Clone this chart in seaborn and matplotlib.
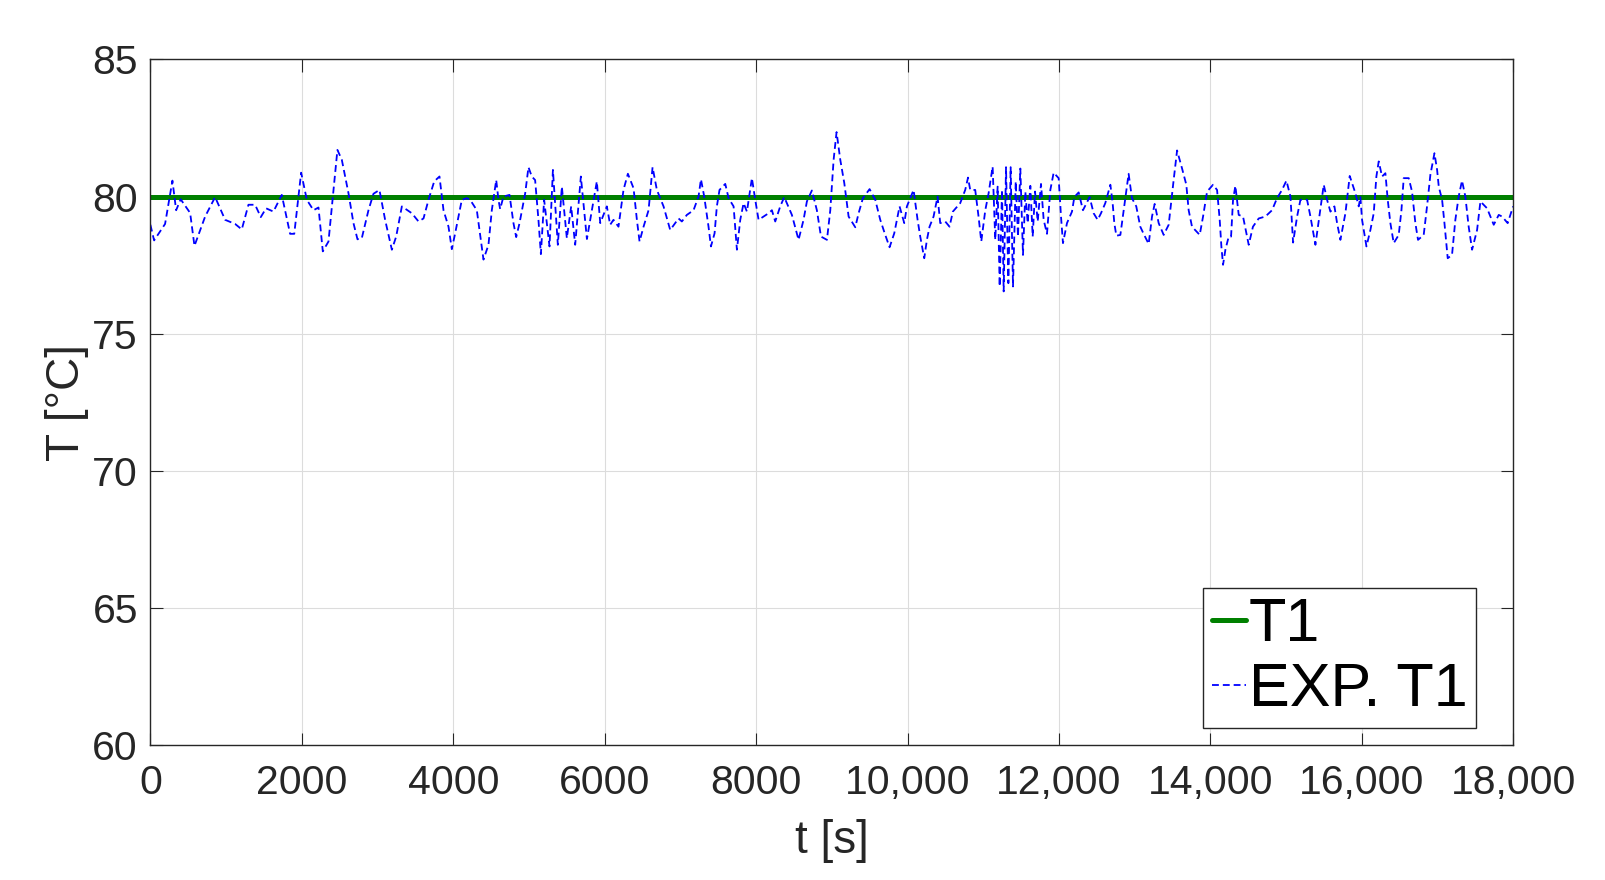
import matplotlib
matplotlib.use("Agg")
import matplotlib.pyplot as plt
import matplotlib.ticker as mticker
import seaborn as sns
import pandas as pd

# ---- data ----
t1_time = [0, 18000]
t1_temp = [80, 80]

exp_time = [
    0, 49, 194, 291, 340, 400, 525, 582, 723, 855, 987, 1119, 1207, 1295, 1383,
    1458, 1528, 1625, 1735, 1845, 1900, 1991, 2066, 2154, 2220, 2277, 2352, 2470,
    2528, 2616, 2682, 2735, 2792, 2880, 2946, 3025,
    3100, 3189, 3246, 3321, 3453, 3541, 3607, 3673, 3748, 3818, 3871, 3937, 3981,
    4025, 4113, 4179, 4223, 4311, 4399, 4465, 4509, 4567, 4597, 4619, 4663, 4743,
    4795, 4831, 4875, 4950, 4993, 5037, 5081, 5125, 5157, 5200, 5271, 5316, 5381,
    5434, 5500, 5557, 5610, 5685, 5765, 5896, 5941,
    6028, 6072, 6116, 6182, 6248, 6306, 6381, 6425, 6460, 6513, 6579, 6632, 6689,
    6777, 6865, 6975, 7019, 7085, 7173, 7239, 7271, 7314, 7371, 7403, 7451, 7481,
    7516, 7592, 7636, 7702, 7746, 7790, 7834, 7878, 7944, 7988, 8032, 8098, 8164,
    8208, 8252, 8318, 8371, 8472, 8560, 8626, 8670, 8736, 8802, 8856, 8935, 8979,
    9023, 9062,
    9111, 9164, 9221, 9309, 9353, 9410, 9498, 9573, 9639, 9705, 9762, 9824, 9859,
    9894, 9956, 9991, 10079, 10132, 10167, 10220, 10255, 10290, 10343, 10396,
    10431, 10497, 10554, 10598, 10695, 10761, 10798, 10827, 10893, 10937, 10973,
    11026, 11070, 11123, 11158, 11189, 11216, 11247, 11269, 11300, 11331, 11361,
    11392, 11428, 11458, 11489, 11524, 11555, 11586, 11621, 11652, 11683, 11718,
    11762, 11797, 11841, 11885, 11929, 11995, 12026, 12052,
    12105, 12171, 12202, 12259, 12316, 12404, 12457, 12510, 12554, 12611, 12678,
    12708, 12730, 12757, 12810, 12854, 12919, 12963, 13020, 13073, 13117, 13184,
    13228, 13263, 13316, 13382, 13448, 13514, 13559, 13624, 13681, 13712, 13756,
    13858, 13902, 13955, 14034, 14087, 14122, 14144, 14166, 14197, 14241, 14272,
    14298, 14329, 14373, 14430, 14505, 14561, 14637, 14725, 14813, 14879, 14945,
    15003, 15056, 15091,
    15144, 15188, 15232, 15276, 15320, 15386, 15443, 15496, 15540, 15584, 15637,
    15672, 15716, 15782, 15839, 15914, 15958, 15980, 16002, 16060, 16112, 16156,
    16191, 16222, 16266, 16310, 16341, 16376, 16420, 16486, 16522, 16552, 16618,
    16662, 16706, 16741, 16816, 16860, 16904, 16958, 16993, 17015, 17059, 17090,
    17133, 17190, 17234, 17278, 17322, 17366, 17410, 17455, 17521, 17565, 17653,
    17741, 17807, 17851, 17925, 17997,
]
exp_temp = [
    78.97, 78.4, 79.0, 80.58, 79.5, 79.9, 79.4, 78.2, 79.27, 79.98, 79.15, 79.0,
    78.8, 79.7, 79.7, 79.25, 79.57, 79.45, 80.06, 78.64, 78.64, 80.87, 79.88, 79.5,
    79.6, 78.0, 78.36, 81.7, 81.34, 80.12, 79.03, 78.44, 78.48, 79.5, 80.1, 80.24,
    79.15, 78.06, 78.54, 79.64, 79.39, 79.09, 79.2, 79.88, 80.55, 80.73, 79.5,
    78.9, 78.08, 78.66, 79.88, 79.94, 79.88, 79.5, 77.7, 78.24, 79.5, 80.6, 79.88,
    79.54, 80.0, 80.06, 79.03, 78.52, 79.03, 80.12, 81.07, 80.73, 80.6, 79.15,
    77.9, 79.88, 78.18, 80.97, 78.24, 80.36, 78.48, 79.64, 78.24, 80.73, 78.45,
    80.55, 79.03,
    79.64, 78.97, 79.15, 78.9, 80.24, 80.83, 80.3, 79.15, 78.36, 78.9, 79.5, 81.07,
    80.24, 79.64, 78.78, 79.2, 79.09, 79.33, 79.5, 80.0, 80.63, 80.0, 78.9, 78.18,
    78.66, 79.64, 80.24, 80.46, 79.94, 79.64, 78.06, 79.15, 79.76, 79.45, 80.67,
    79.88, 79.15, 79.27, 79.39, 79.5, 79.09, 79.64, 79.98, 79.33, 78.42, 79.15,
    79.82, 80.22, 79.5, 78.54, 78.42, 79.5, 81.34, 82.35,
    81.34, 80.49, 79.27, 78.88, 79.39, 79.94, 80.27, 79.88, 79.15, 78.6, 78.15,
    78.66, 79.15, 79.64, 79.03, 79.64, 80.24, 79.15, 78.54, 77.75, 78.42, 78.9,
    79.27, 80.0, 79.03, 79.09, 78.9, 79.45, 79.76, 80.24, 80.69, 80.24, 80.24,
    79.27, 78.36, 79.5, 80.12, 81.09, 78.42, 80.36, 76.72, 80.24, 76.54, 81.07,
    76.84, 81.07, 76.72, 80.55, 78.54, 81.02, 77.87, 80.18, 79.03, 80.39, 78.54,
    80.18, 79.09, 80.46, 79.15, 78.64, 80.24, 80.87, 80.67, 79.27, 78.3,
    79.03, 79.45, 79.98, 80.15, 79.5, 79.98, 79.39, 79.15, 79.39, 79.76, 80.43,
    79.76, 79.03, 78.57, 78.6, 79.5, 80.83, 79.94, 79.64, 78.9, 78.64, 78.27,
    79.27, 79.73, 79.03, 78.6, 78.97, 80.61, 81.68, 81.03, 80.43, 79.5, 78.9,
    78.6, 79.27, 80.18, 80.43, 80.24, 79.15, 78.18, 77.51, 78.06, 78.54, 78.54,
    79.88, 80.39, 79.33, 79.27, 78.24, 78.9, 79.2, 79.27, 79.5, 79.94, 80.24,
    80.58, 80.0, 78.32,
    79.27, 79.88, 79.88, 79.88, 79.27, 78.24, 79.39, 80.43, 79.88, 79.45, 79.64,
    79.03, 78.42, 79.39, 80.75, 80.12, 79.64, 79.98, 79.15, 78.18, 78.78, 79.39,
    80.73, 81.28, 80.73, 80.85, 79.88, 79.03, 78.3, 78.6, 79.5, 80.67, 80.67,
    80.18, 79.03, 78.42, 78.6, 79.64, 80.79, 81.58, 80.97, 80.36, 79.88, 79.03,
    77.75, 77.87, 79.15, 80.0, 80.58, 80.0, 78.9, 78.06, 78.78, 79.82, 79.57,
    78.97, 79.33, 79.27, 79.03, 79.64,
]

x_ticks = [0, 2000, 4000, 6000, 8000, 10000, 12000, 14000, 16000, 18000]
y_ticks = [60, 65, 70, 75, 80, 85]

df_t1 = pd.DataFrame({"t": t1_time, "T": t1_temp})
df_exp = pd.DataFrame({"t": exp_time, "T": exp_temp})

# ---- style ----
sns.set_theme(style="white")
plt.rcParams["font.family"] = ["Liberation Sans", "DejaVu Sans"]
dark = "#262626"

fig = plt.figure(figsize=(16.05, 8.80), dpi=100)
ax = fig.add_axes([0.0937, 0.1534, 0.8492, 0.7791])

sns.lineplot(data=df_t1, x="t", y="T", ax=ax, color="#008000", linewidth=3.6,
             label="T1", sort=False, estimator=None)
sns.lineplot(data=df_exp, x="t", y="T", ax=ax, color="#0000ff", linewidth=1.3,
             label="EXP. T1", sort=False, estimator=None)
ax.lines[1].set_dashes((3.8, 2.2))

ax.set_xlim(0, 18000)
ax.set_ylim(60, 85)
ax.set_xticks(x_ticks)
ax.set_yticks(y_ticks)


def fmt(v, pos):
    v = int(round(v))
    return f"{v:,}" if v >= 10000 else f"{v}"


ax.xaxis.set_major_formatter(mticker.FuncFormatter(fmt))

ax.grid(True, color="#dcdcdc", linewidth=0.8)
ax.set_axisbelow(True)
for s in ax.spines.values():
    s.set_color(dark)
    s.set_linewidth(1.0)
    s.set_visible(True)

ax.tick_params(axis="both", which="major", direction="in", length=9, width=0.8,
               color=dark, labelcolor=dark, labelsize=29.5,
               top=True, right=True, bottom=True, left=True)
ax.tick_params(axis="x", pad=14)
ax.tick_params(axis="y", pad=9)

ax.set_xlabel("t [s]", fontsize=33, color=dark, labelpad=12)
ax.set_ylabel("T [°C]", fontsize=33, color=dark, labelpad=2)

leg = ax.legend(loc="lower right", bbox_to_anchor=(1476 / 1605, 1 - 728 / 880),
                bbox_transform=fig.transFigure, borderaxespad=0,
                fontsize=44, frameon=True, fancybox=False, framealpha=1,
                edgecolor=dark, handlelength=0.55, handletextpad=0.05,
                borderpad=0.14, labelspacing=0.14)
leg.get_frame().set_linewidth(1.0)
for txt in leg.get_texts():
    txt.set_color("black")

fig.savefig("out.png", dpi=100)
